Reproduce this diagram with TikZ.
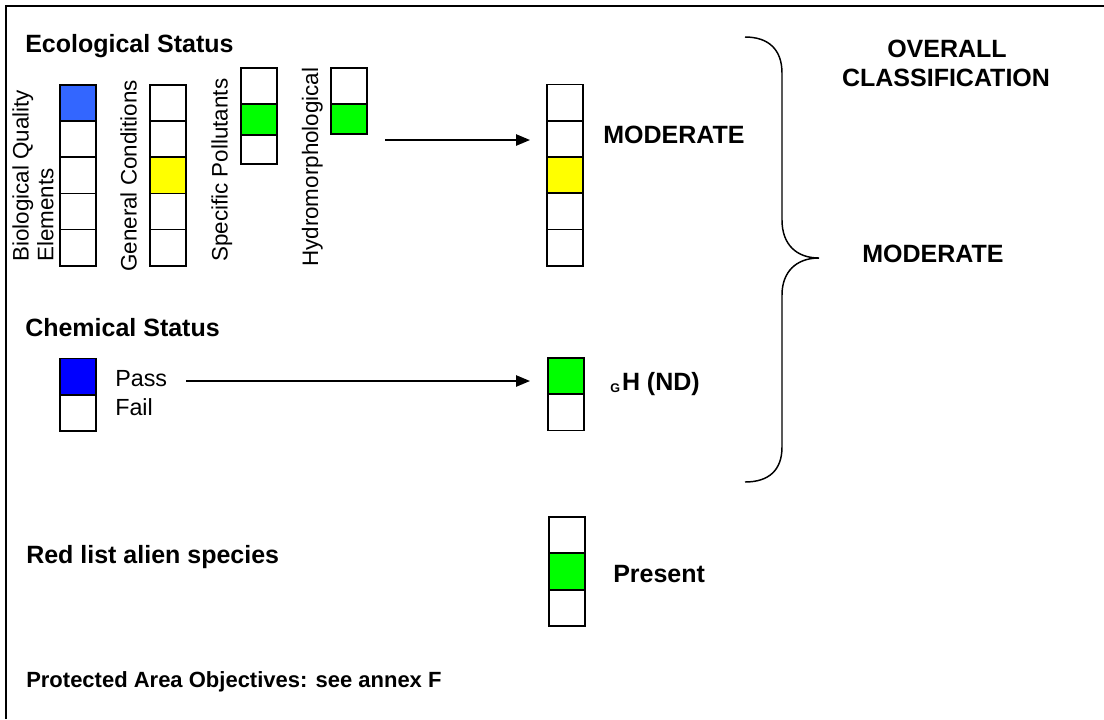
\documentclass[tikz,border=0pt]{standalone}
\usepackage{fontspec}
\setmainfont{Liberation Sans}
\usetikzlibrary{arrows.meta}
\definecolor{bqeblue}{HTML}{3366FF}
\definecolor{passblue}{HTML}{0000FF}
\definecolor{stgreen}{HTML}{00FF00}
\definecolor{styellow}{HTML}{FFFF00}
\tikzset{
  hd/.style={anchor=base west, inner sep=0pt, font=\fontsize{18.75}{22}\selectfont\bfseries},
  sm/.style={anchor=base west, inner sep=0pt, font=\fontsize{16.5}{20}\selectfont\bfseries},
  lbl/.style={anchor=base west, inner sep=0pt, rotate=90, font=\fontsize{16.8}{20}\selectfont},
  txt/.style={anchor=base west, inner sep=0pt, font=\fontsize{17.5}{21}\selectfont},
  cell/.style={draw, line width=1.4pt, fill=white, minimum width=27pt, minimum height=27.1pt, inner sep=0pt, outer sep=0pt},
  arr/.style={-{Triangle[length=10.5pt,width=8.5pt]}, line width=1.2pt},
  frame/.style={line width=1.5pt},
  brace/.style={line width=1.1pt}
}
\begin{document}
\begin{tikzpicture}[x=0.75pt, y=-0.75pt]
\useasboundingbox (0,0) rectangle (1104,719);
\draw[frame] (6,719) -- (6,6) -- (1104,6);

% headings
\node[hd] (eco) at (25,52) {Ecological Status};
\node[hd] (chem) at (25,336) {Chemical Status};
\node[hd] (red) at (26,563) {Red list alien species};
\node[sm] (prot) at (26,687) {Protected Area Objectives: see annex F};

% rotated labels
\node[lbl] (lbqe1) at (28.7,262) {Biological Quality};
\node[lbl] (lbqe2) at (53.3,262) {Elements};
\node[lbl] (lgc) at (136.7,272) {General Conditions};
\node[lbl] (lsp) at (227.7,262) {Specific Pollutants};
\node[lbl] (lhy) at (318,267) {Hydromorphological};

% Biological Quality Elements column
\node[cell, fill=bqeblue] (b1) at (78,103.1) {};
\node[cell] (b2) at (78,139.2) {};
\node[cell] (b3) at (78,175.4) {};
\node[cell] (b4) at (78,211.5) {};
\node[cell] (b5) at (78,247.6) {};

% General Conditions column
\node[cell] (g1) at (168.2,103.1) {};
\node[cell] (g2) at (168.2,139.2) {};
\node[cell, fill=styellow] (g3) at (168.2,175.4) {};
\node[cell] (g4) at (168.2,211.5) {};
\node[cell] (g5) at (168.2,247.6) {};

% Specific Pollutants column
\node[cell, minimum height=27.4pt] (s1) at (258.7,86) {};
\node[cell, fill=stgreen, minimum height=23pt] (s2) at (258.7,119.6) {};
\node[cell, minimum height=22pt] (s3) at (258.7,149.6) {};

% Hydromorphological column
\node[cell, minimum height=27.4pt] (h1) at (348.8,86) {};
\node[cell, fill=stgreen, minimum height=22.5pt] (h2) at (348.8,119.3) {};

% Ecological result column
\node[cell] (m1) at (565.3,102.6) {};
\node[cell] (m2) at (565.3,138.8) {};
\node[cell, fill=styellow] (m3) at (565.3,175.1) {};
\node[cell] (m4) at (565.3,211.4) {};
\node[cell] (m5) at (565.3,247.6) {};
\node[hd] (mod1) at (603,143) {MODERATE};

\coordinate (a1s) at (385,140);
\coordinate (a1e) at (530,140);
\draw[arr] (a1s) -- (a1e);

% Chemical status
\node[cell, fill=passblue] (c1) at (78,376.6) {};
\node[cell] (c2) at (78,412.8) {};
\node[txt] (pass) at (115,386) {Pass};
\node[txt] (fail) at (115,415) {Fail};

\node[cell, fill=stgreen] (cm1) at (565.8,376.4) {};
\node[cell] (cm2) at (565.8,412.4) {};
\node[hd] (gh) at (610,390) {{\fontsize{9.4}{11}\selectfont\raisebox{-2pt}{G}}\kern1.5pt H (ND)};

\coordinate (a2s) at (186,381);
\coordinate (a2e) at (530,381);
\draw[arr] (a2s) -- (a2e);

% Red list
\node[cell] (r1) at (567,535.2) {};
\node[cell, fill=stgreen] (r2) at (567,571.5) {};
\node[cell] (r3) at (567,607.8) {};
\node[hd] (present) at (613,582) {Present};

% Brace
\draw[brace] (745,37) .. controls (769,37) and (782,50) .. (782,73)
  -- (782,220) .. controls (782,244) and (796,258) .. (819,258)
  .. controls (796,258) and (782,272) .. (782,295)
  -- (782,447) .. controls (782,470) and (769,482) .. (745,482);

% Overall classification
\node[hd, anchor=base] (ov1) at (947,57) {OVERALL};
\node[hd, anchor=base] (ov2) at (946,86) {CLASSIFICATION};
\node[hd] (mod2) at (862,262) {MODERATE};
\end{tikzpicture}
\end{document}
